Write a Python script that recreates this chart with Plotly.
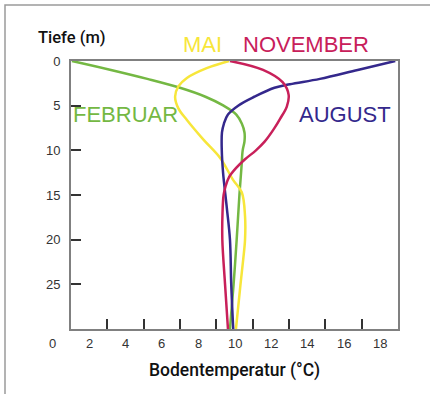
import plotly.graph_objects as go

# depth (m) and soil temperature (°C)
feb_depth = [0, 1, 2, 3, 4, 5, 6, 7, 8, 9, 10, 12, 15, 20, 25, 30]
feb_temp = [1.05, 3.2, 5.2, 7.0, 8.4, 9.4, 10.1, 10.4, 10.55, 10.55, 10.45, 10.38, 10.27, 10.12, 9.95, 9.75]

mai_depth = [0, 0.8, 1.9, 2.85, 4.0, 5.3, 6.6, 8.8, 10.85, 13.3, 14.7, 17.4, 20, 22.2, 25, 30]
mai_temp = [9.7, 8.47, 7.38, 6.91, 6.73, 6.91, 7.38, 8.29, 9.21, 9.92, 10.4, 10.58, 10.58, 10.48, 10.33, 10.08]

aug_depth = [0, 1, 2, 2.6, 3, 4, 5, 6, 7, 8, 10, 12.5, 16.3, 20, 25, 30]
aug_temp = [18.85, 16.78, 14.7, 13.05, 12.2, 11.1, 10.2, 9.64, 9.42, 9.31, 9.3, 9.37, 9.57, 9.75, 9.82, 9.93]

nov_depth = [0, 1, 2.4, 3.8, 5.1, 6.5, 7.6, 9, 10, 11, 12, 13, 14, 15, 17, 20, 25, 30]
nov_temp = [9.75, 11.57, 12.66, 12.98, 12.88, 12.5, 12.17, 11.67, 11.18, 10.58, 10.08, 9.7, 9.51, 9.4, 9.34, 9.33, 9.48, 9.64]

x_tick_marks = [3, 5, 7, 9, 11, 13, 15, 17]
x_tick_labels = [0, 2, 4, 6, 8, 10, 12, 14, 16, 18]
y_ticks = [0, 5, 10, 15, 20, 25]

XMIN, XMAX = 1, 19
YMIN, YMAX = 0, 30

series = [
    ("FEBRUAR", feb_temp, feb_depth, "#74b843", 4.0, 6.0),
    ("MAI", mai_temp, mai_depth, "#f7e63a", 8.23, -1.8),
    ("AUGUST", aug_temp, aug_depth, "#34288c", 16.1, 6.0),
    ("NOVEMBER", nov_temp, nov_depth, "#c8205a", 13.93, -1.8),
]

fig = go.Figure()
for name, t, d, col, lx, ly in series:
    fig.add_trace(go.Scatter(x=t, y=d, mode="lines", name=name,
                             line=dict(color=col, width=2.5, shape="spline", smoothing=1.0),
                             showlegend=False, hoverinfo="skip"))

def px_(v):
    return (v - XMIN) / (XMAX - XMIN)

def py_(d):
    return 1 - (d - YMIN) / (YMAX - YMIN)

annotations = []
for name, t, d, col, lx, ly in series:
    annotations.append(dict(x=px_(lx), y=py_(ly), xref="paper", yref="paper",
                            text=name, showarrow=False, xanchor="center", yanchor="middle",
                            font=dict(family="Liberation Sans", size=22, color=col)))
for v in x_tick_labels:
    annotations.append(dict(x=px_(v), y=0, xref="paper", yref="paper", text=str(v),
                            showarrow=False, xanchor="center", yanchor="middle", yshift=-14,
                            font=dict(family="Liberation Sans", size=13, color="#333333")))
annotations.append(dict(x=px_(-0.95), y=py_(-2.6), xref="paper", yref="paper", text="Tiefe (m)",
                        showarrow=False, xanchor="left", yanchor="middle",
                        font=dict(family="Roboto", size=16.5, color="#111111", weight=500)))
annotations.append(dict(x=px_(10.0), y=py_(34.6), xref="paper", yref="paper", text="Bodentemperatur (°C)",
                        showarrow=False, xanchor="center", yanchor="middle",
                        font=dict(family="Roboto", size=17.5, color="#111111", weight=500)))

fig.update_layout(
    width=430, height=394,
    margin=dict(l=71, r=32, t=61, b=65),
    paper_bgcolor="white", plot_bgcolor="white",
    annotations=annotations,
    shapes=[
        dict(type="rect", xref="paper", yref="paper", x0=-66/327, x1=1 + 60/327,
             y0=-80/268, y1=1 + 56/268, line=dict(color="#9a9a9a", width=1.5),
             fillcolor="rgba(0,0,0,0)", layer="below"),
    ],
)
fig.update_xaxes(range=[XMIN, XMAX], tickvals=x_tick_marks, showticklabels=False,
                 ticks="inside", ticklen=10, tickwidth=1.5, tickcolor="#333333",
                 showline=True, linecolor="#808080", linewidth=2, mirror=True,
                 showgrid=False, zeroline=False)
fig.update_yaxes(range=[YMAX, YMIN], tickvals=y_ticks, ticks="inside", ticklen=10,
                 tickwidth=1.5, tickcolor="#333333", ticklabelstandoff=6,
                 tickfont=dict(family="Liberation Sans", size=13, color="#333333"),
                 showline=True, linecolor="#808080", linewidth=2, mirror=True,
                 showgrid=False, zeroline=False)

fig.write_html("out.html", config={"displayModeBar": False},
               post_script="document.body.style.margin='0';")
